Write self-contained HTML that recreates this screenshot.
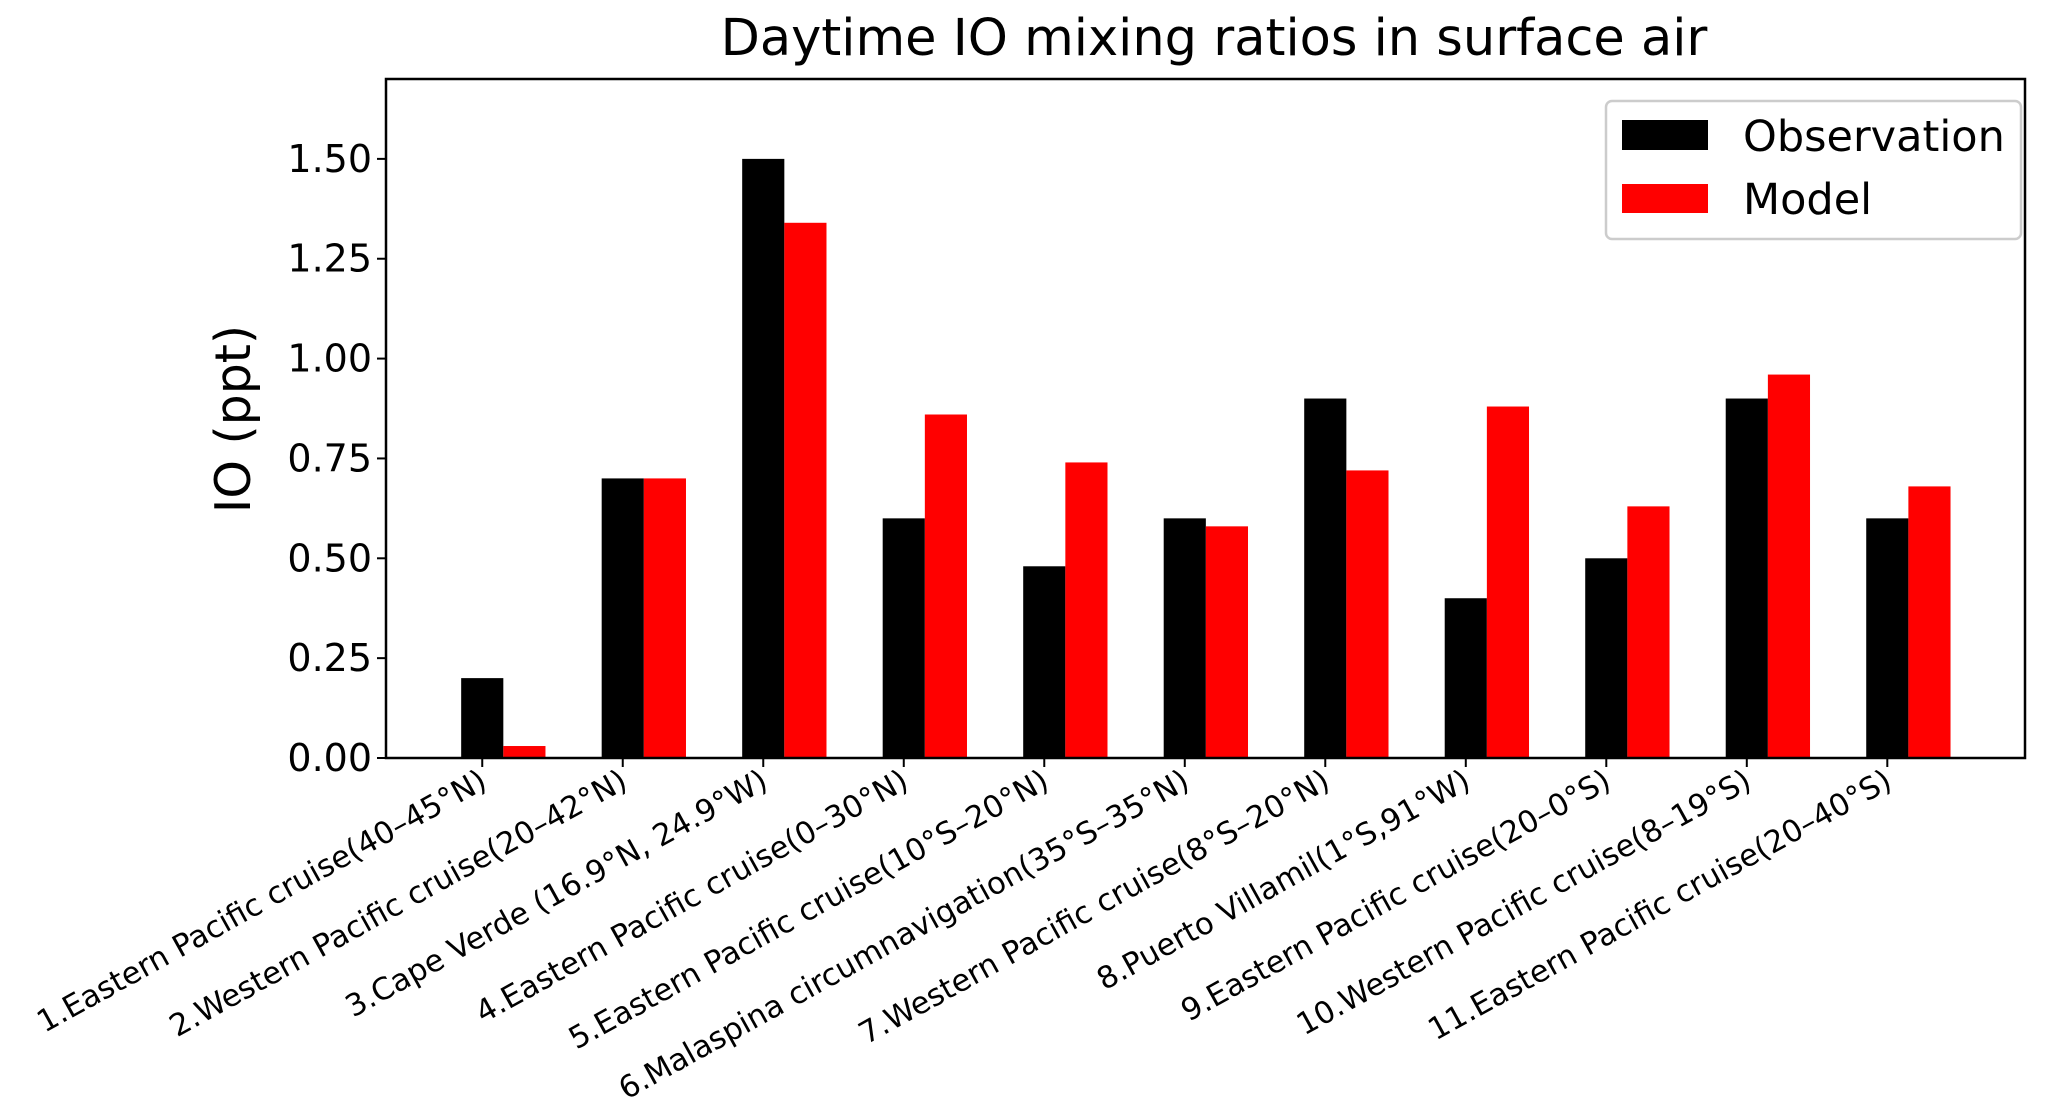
<!DOCTYPE html>
<html><head><meta charset="utf-8"><style>
html,body{margin:0;padding:0;background:#fff}
svg text{font-family:"DejaVu Sans","Liberation Sans",sans-serif;fill:#000}
</style></head><body>
<svg id="chart" width="2067" height="1109" xmlns="http://www.w3.org/2000/svg">
<text x="1214" y="55" font-size="51" text-anchor="middle">Daytime IO mixing ratios in surface air</text>
<text transform="translate(250,419) rotate(-90)" font-size="49" text-anchor="middle">IO (ppt)</text>
<g id="bars"></g>
<g id="yticks"></g>
<g id="xticks"></g>
<rect x="386" y="79" width="1639" height="679" fill="none" stroke="#000" stroke-width="2.5"/>
<g>
<rect x="1606" y="101" width="415" height="138" rx="6" fill="#fff" fill-opacity="0.8" stroke="#ccc" stroke-width="2.5"/>
<rect x="1622" y="120" width="86" height="30" fill="#000"/>
<text x="1743" y="151" font-size="43">Observation</text>
<rect x="1622" y="184" width="86" height="29" fill="#f00"/>
<text x="1743" y="214" font-size="43">Model</text>
</g>
</svg>
<script>
const categories = ["1.Eastern Pacific cruise(40–45°N)","2.Western Pacific cruise(20–42°N)","3.Cape Verde (16.9°N, 24.9°W)","4.Eastern Pacific cruise(0–30°N)","5.Eastern Pacific cruise(10°S–20°N)","6.Malaspina circumnavigation(35°S–35°N)","7.Western Pacific cruise(8°S–20°N)","8.Puerto Villamil(1°S,91°W)","9.Eastern Pacific cruise(20–0°S)","10.Western Pacific cruise(8–19°S)","11.Eastern Pacific cruise(20–40°S)"];
const observation = [0.2,0.7,1.5,0.6,0.48,0.6,0.9,0.4,0.5,0.9,0.6];
const model = [0.03,0.7,1.34,0.86,0.74,0.58,0.72,0.88,0.63,0.96,0.68];
const yTicks = [0,0.25,0.5,0.75,1.0,1.25,1.5];
const yTickLabels = ["0.00","0.25","0.50","0.75","1.00","1.25","1.50"];

const NS="http://www.w3.org/2000/svg";
const L=386,R=2025,T=79,B=758;
const xMin=-0.685,xMax=10.98,yMax=1.7;
const xs=v=>L+(v-xMin)/(xMax-xMin)*(R-L);
const ys=v=>B-v/yMax*(B-T);
const bw=0.3;
function mk(tag,attrs,parent){const e=document.createElementNS(NS,tag);for(const k in attrs)e.setAttribute(k,attrs[k]);parent.appendChild(e);return e;}
const gb=document.getElementById('bars');
observation.forEach((v,i)=>{
  const r=mk('rect',{x:xs(i-bw/2),y:ys(v),width:xs(bw)-xs(0),height:B-ys(v),fill:'#000'},gb);
  
  
});
model.forEach((v,i)=>{
  const r=mk('rect',{x:xs(i+bw/2),y:ys(v),width:xs(bw)-xs(0),height:B-ys(v),fill:'#f00'},gb);
  
  
});
const gy=document.getElementById('yticks');
yTicks.forEach((v,i)=>{
  const l=mk('line',{x1:L-9,x2:L,y1:ys(v),y2:ys(v),stroke:'#000','stroke-width':2},gy);
  
  
  const t=mk('text',{x:L-14,y:ys(v)+13,'font-size':38,'text-anchor':'end'},gy);
  t.textContent=yTickLabels[i];
  
  
});
const gx=document.getElementById('xticks');
categories.forEach((c,i)=>{
  const x=xs(i);
  const l=mk('line',{x1:x,x2:x,y1:B,y2:B+9,stroke:'#000','stroke-width':2},gx);
  
  
  const t=mk('text',{transform:`translate(${x-4},${B+10}) rotate(-29)`,'font-size':30.5,'text-anchor':'end','dominant-baseline':'hanging'},gx);
  t.textContent=c;
  
  
});
</script>
</body></html>
